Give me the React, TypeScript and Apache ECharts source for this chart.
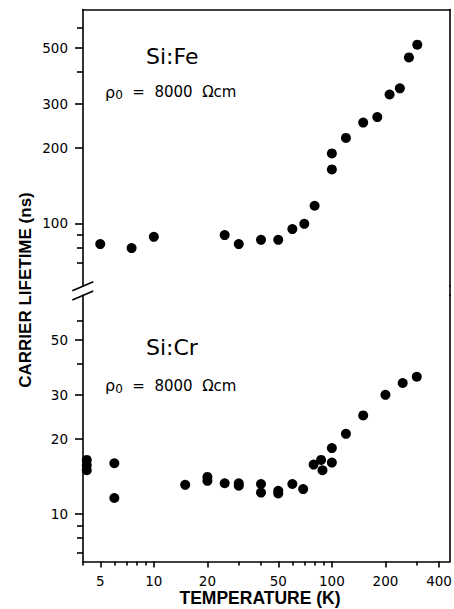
import React, { useEffect, useRef } from "react";
import * as echarts from "echarts";

// Si:Fe (upper panel)
const feTemperature = [5, 7.5, 10, 25, 30, 40, 50, 60, 70, 80, 100, 100, 120, 150, 180, 211, 241, 271, 302];
const feLifetime = [82.7, 79.7, 88.4, 89.8, 82.7, 86, 86, 94.9, 99.6, 117.5, 190, 164, 219, 252, 265, 326, 345, 458, 515];

// Si:Cr (lower panel)
const crTemperature = [4.2, 4.2, 4.2, 6, 6, 15, 20, 20, 25, 30, 30, 40, 40, 50, 50, 60, 69, 79, 87, 88.6, 100, 100, 120, 150, 200, 250, 300];
const crLifetime = [16.5, 15.7, 15.0, 16.0, 11.6, 13.1, 14.1, 13.6, 13.3, 13.3, 13.0, 13.2, 12.2, 12.4, 12.1, 13.2, 12.6, 15.8, 16.5, 15.0, 16.1, 18.4, 21.0, 24.9, 30.1, 33.6, 35.6];

// ticks
const xMajorTicks = [5, 10, 20, 50, 100, 200, 400];
const xMinorTicks = [4, 6, 7, 8, 9, 30, 40, 60, 70, 80, 90, 300];
const feMajorTicks = [100, 200, 300, 500];
const feMinorTicks = [70, 80, 90, 400, 600];
const crMajorTicks = [10, 20, 30, 50];
const crMinorTicks = [7, 8, 9, 40, 60];

const X_MIN = 4;
const X_MAX = 461;
const FE_MIN = 56.3;
const FE_MAX = 711;
const CR_MIN = 6.45;
const CR_MAX = 75.5;

const LINE = { color: "#000", width: 1.6 };
const TICK_FONT = { color: "#000", fontFamily: "DejaVu Sans", fontSize: 13.5 };

const fmt = (v: number) => String(Math.round(v));

export default function App() {
  const ref = useRef<HTMLDivElement>(null);

  useEffect(() => {
    if (!ref.current) return;
    const chart = echarts.init(ref.current, undefined, { renderer: "svg" });

    const left = 83;
    const width = 367;
    const topGrid = { left, top: 9.5, width, height: 276.5, outerBoundsMode: "none" };
    const botGrid = { left, top: 295.4, width, height: 266.1, outerBoundsMode: "none" };

    const logAxis = (gridIndex: number, position: string, min: number, max: number) => ({
      type: "log",
      logBase: 10,
      gridIndex,
      position,
      min,
      max,
      splitLine: { show: false },
    });

    const option: any = {
      animation: false,
      backgroundColor: "#fff",
      grid: [topGrid, botGrid],
      xAxis: [
        // 0: top panel, its top border
        {
          ...logAxis(0, "top", X_MIN, X_MAX),
          axisLine: { show: true, onZero: false, lineStyle: LINE },
          axisTick: { show: false },
          axisLabel: { show: false },
        },
        // 1: bottom axis with major ticks & labels
        {
          ...logAxis(1, "bottom", X_MIN, X_MAX),
          axisLine: { show: true, onZero: false, lineStyle: LINE },
          axisTick: { show: true, inside: false, length: 6, customValues: xMajorTicks, lineStyle: LINE },
          axisLabel: { show: true, customValues: xMajorTicks, margin: 12, formatter: fmt, ...TICK_FONT },
        },
        // 2: bottom axis minor ticks
        {
          ...logAxis(1, "bottom", X_MIN, X_MAX),
          axisLine: { show: false, onZero: false },
          axisTick: { show: true, inside: false, length: 4, customValues: xMinorTicks, lineStyle: LINE },
          axisLabel: { show: false },
        },
      ],
      yAxis: [
        // 0: Fe major
        {
          ...logAxis(0, "left", FE_MIN, FE_MAX),
          axisLine: { show: true, onZero: false, lineStyle: LINE },
          axisTick: { show: true, length: 8, customValues: feMajorTicks, lineStyle: LINE },
          axisLabel: { show: true, customValues: feMajorTicks, margin: 15, formatter: fmt, ...TICK_FONT },
        },
        // 1: Fe minor
        {
          ...logAxis(0, "left", FE_MIN, FE_MAX),
          axisLine: { show: false, onZero: false },
          axisTick: { show: true, length: 6, customValues: feMinorTicks, lineStyle: LINE },
          axisLabel: { show: false },
        },
        // 2: Fe right border
        {
          ...logAxis(0, "right", FE_MIN, FE_MAX),
          axisLine: { show: true, onZero: false, lineStyle: LINE },
          axisTick: { show: false },
          axisLabel: { show: false },
        },
        // 3: Cr major
        {
          ...logAxis(1, "left", CR_MIN, CR_MAX),
          axisLine: { show: true, onZero: false, lineStyle: LINE },
          axisTick: { show: true, length: 8, customValues: crMajorTicks, lineStyle: LINE },
          axisLabel: { show: true, customValues: crMajorTicks, margin: 15, formatter: fmt, ...TICK_FONT },
        },
        // 4: Cr minor
        {
          ...logAxis(1, "left", CR_MIN, CR_MAX),
          axisLine: { show: false, onZero: false },
          axisTick: { show: true, length: 6, customValues: crMinorTicks, lineStyle: LINE },
          axisLabel: { show: false },
        },
        // 5: Cr right border
        {
          ...logAxis(1, "right", CR_MIN, CR_MAX),
          axisLine: { show: true, onZero: false, lineStyle: LINE },
          axisTick: { show: false },
          axisLabel: { show: false },
        },
      ],
      series: [
        {
          name: "Si:Fe",
          type: "scatter",
          xAxisIndex: 0,
          yAxisIndex: 0,
          symbol: "circle",
          symbolSize: 10,
          itemStyle: { color: "#000", opacity: 1 },
          data: feTemperature.map((t, i) => [t, feLifetime[i]]),
        },
        {
          name: "Si:Cr",
          type: "scatter",
          xAxisIndex: 1,
          yAxisIndex: 3,
          symbol: "circle",
          symbolSize: 10,
          itemStyle: { color: "#000", opacity: 1 },
          data: crTemperature.map((t, i) => [t, crLifetime[i]]),
        },
      ],
      graphic: [
        // right border continuation through the break
        { type: "line", shape: { x1: 450, y1: 285, x2: 450, y2: 296 }, style: { stroke: "#000", lineWidth: 1.6 } },
        // break marks
        { type: "line", shape: { x1: 72.3, y1: 290.7, x2: 93.3, y2: 281.7 }, style: { stroke: "#000", lineWidth: 1.6 } },
        { type: "line", shape: { x1: 72.3, y1: 300, x2: 93.3, y2: 291 }, style: { stroke: "#000", lineWidth: 1.6 } },
        // panel annotations
        {
          type: "text",
          x: 146,
          y: 56,
          style: { text: "Si:Fe", fill: "#000", fontFamily: "DejaVu Sans", fontSize: 22, verticalAlign: "middle", align: "left" },
        },
        {
          type: "text",
          x: 105,
          y: 92,
          style: {
            text: "{r|ρ}{s|0}{t|  =  8000  Ωcm}",
            verticalAlign: "middle",
            align: "left",
            rich: {
              r: { fontFamily: "DejaVu Sans", fontSize: 16, fill: "#000" },
              s: { fontFamily: "DejaVu Sans", fontSize: 12, fill: "#000", padding: [6, 0, 0, 0] },
              t: { fontFamily: "DejaVu Sans", fontSize: 15, fill: "#000" },
            },
          },
        },
        {
          type: "text",
          x: 146,
          y: 347.5,
          style: { text: "Si:Cr", fill: "#000", fontFamily: "DejaVu Sans", fontSize: 22, verticalAlign: "middle", align: "left" },
        },
        {
          type: "text",
          x: 105,
          y: 385.7,
          style: {
            text: "{r|ρ}{s|0}{t|  =  8000  Ωcm}",
            verticalAlign: "middle",
            align: "left",
            rich: {
              r: { fontFamily: "DejaVu Sans", fontSize: 16, fill: "#000" },
              s: { fontFamily: "DejaVu Sans", fontSize: 12, fill: "#000", padding: [6, 0, 0, 0] },
              t: { fontFamily: "DejaVu Sans", fontSize: 15, fill: "#000" },
            },
          },
        },
        // axis titles
        {
          type: "text",
          x: 25,
          y: 290,
          rotation: Math.PI / 2,
          style: {
            text: "CARRIER LIFETIME (ns)",
            fill: "#000",
            fontFamily: "'Liberation Sans', sans-serif",
            fontWeight: "bold",
            fontSize: 17,
            align: "center",
            verticalAlign: "middle",
          },
        },
        {
          type: "text",
          x: 260,
          y: 598,
          style: {
            text: "TEMPERATURE (K)",
            fill: "#000",
            fontFamily: "'Liberation Sans', sans-serif",
            fontWeight: "bold",
            fontSize: 17.5,
            align: "center",
            verticalAlign: "middle",
          },
        },
      ],
    };

    chart.setOption(option);
    return () => chart.dispose();
  }, []);

  return (
    <div
      ref={ref}
      style={{ position: "absolute", left: 0, top: 0, width: 454, height: 609, background: "#fff" }}
    />
  );
}
